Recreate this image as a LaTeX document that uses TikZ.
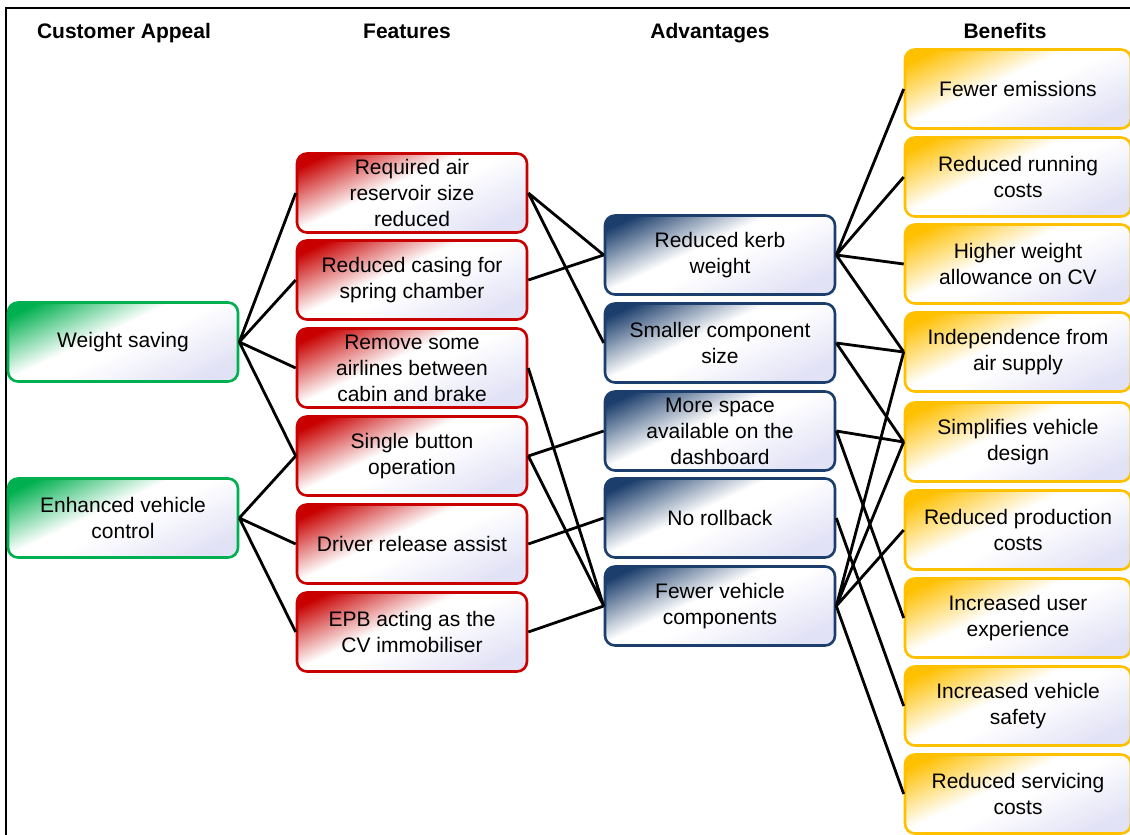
\documentclass[tikz,border=0pt]{standalone}
\usepackage{fontspec}
\setmainfont{Liberation Sans}
\definecolor{apgreen}{RGB}{0, 176, 80}
\definecolor{ftred}{RGB}{200, 0, 0}
\definecolor{advblue}{RGB}{28, 62, 108}
\definecolor{bengold}{RGB}{255, 192, 0}
\definecolor{lav}{RGB}{226, 226, 246}
\newcommand\boxshade[2]{\pgfdeclareverticalshading{#1}{100bp}{color(0bp)=(lav); color(25bp)=(lav); color(48bp)=(white); color(56bp)=(white); color(78bp)=(#2); color(100bp)=(#2)}}
\boxshade{greenshade}{apgreen}
\boxshade{redshade}{ftred}
\boxshade{blueshade}{advblue}
\boxshade{goldshade}{bengold}
\begin{document}
\begin{tikzpicture}[x=1pt, y=-1pt, font=\fontsize{21}{26}\selectfont,
		box/.style={draw, rounded corners=10pt, line width=2.6pt, minimum width=230pt, minimum height=79pt, align=center, inner sep=1pt, shade, shading angle=25},
		appeal/.style={box, draw=apgreen, shading=greenshade},
		feature/.style={box, draw=ftred, shading=redshade},
		advantage/.style={box, draw=advblue, shading=blueshade},
		benefit/.style={box, minimum width=226pt, draw=bengold, shading=goldshade},
		head/.style={anchor=base, font=\fontsize{21}{26}\selectfont\bfseries},
		link/.style={line width=2.8pt, black}]
		\useasboundingbox (0,0) rectangle (1130,835);
		
		% 边框
		\draw[line width=2pt] (6,835) -- (6,8) -- (1130,8);
		
		% 标题
		\node[head] (hAppeal) at (124,38) {Customer Appeal};
		\node[head] (hFeatures) at (407,38) {Features};
		\node[head] (hAdvantages) at (710,38) {Advantages};
		\node[head] (hBenefits) at (1005,38) {Benefits};
		
		% Customer Appeal
		\node[appeal] (weight) at (123,342) {Weight saving};
		\node[appeal] (control) at (123,518) {Enhanced vehicle\\control};
		
		% Features
		\node[feature] (reservoir) at (412,193) {Required air\\reservoir size\\reduced};
		\node[feature] (casing) at (412,280) {Reduced casing for\\spring chamber};
		\node[feature] (airlines) at (412,368) {Remove some\\airlines between\\cabin and brake};
		\node[feature] (button) at (412,456) {Single button\\operation};
		\node[feature] (release) at (412,544) {Driver release assist};
		\node[feature] (epb) at (412,632) {EPB acting as the\\CV immobiliser};
		
		% Advantages
		\node[advantage] (kerb) at (720,255) {Reduced kerb\\weight};
		\node[advantage] (size) at (720,343) {Smaller component\\size};
		\node[advantage] (space) at (720,431) {More space\\available on the\\dashboard};
		\node[advantage] (rollback) at (720,518) {No rollback};
		\node[advantage] (fewer) at (720,606) {Fewer vehicle\\components};
		
		% Benefits
		\node[benefit] (emissions) at (1018,89) {Fewer emissions};
		\node[benefit] (running) at (1018,177) {Reduced running\\costs};
		\node[benefit] (allowance) at (1018,264) {Higher weight\\allowance on CV};
		\node[benefit] (independence) at (1018,352) {Independence from\\air supply};
		\node[benefit] (simplifies) at (1018,442) {Simplifies vehicle\\design};
		\node[benefit] (production) at (1018,530) {Reduced production\\costs};
		\node[benefit] (experience) at (1018,618) {Increased user\\experience};
		\node[benefit] (safety) at (1018,706) {Increased vehicle\\safety};
		\node[benefit] (servicing) at (1018,794) {Reduced servicing\\costs};
		
		% 连线
		\draw[link] (weight.east) -- (reservoir.west) (weight.east) -- (casing.west)
			(weight.east) -- (airlines.west) (weight.east) -- (button.west);
		\draw[link] (control.east) -- (button.west) (control.east) -- (release.west)
			(control.east) -- (epb.west);
		\draw[link] (reservoir.east) -- (kerb.west) (reservoir.east) -- (size.west)
			(casing.east) -- (kerb.west) (airlines.east) -- (fewer.west)
			(button.east) -- (space.west) (button.east) -- (fewer.west)
			(release.east) -- (rollback.west) (epb.east) -- (fewer.west);
		\draw[link] (kerb.east) -- (emissions.west) (kerb.east) -- (running.west)
			(kerb.east) -- (allowance.west) (kerb.east) -- (independence.west);
		\draw[link] (size.east) -- (independence.west) (size.east) -- (simplifies.west)
			(space.east) -- (simplifies.west) (space.east) -- (experience.west)
			(rollback.east) -- (safety.west);
		\draw[link] (fewer.east) -- (independence.west) (fewer.east) -- (simplifies.west)
			(fewer.east) -- (production.west) (fewer.east) -- (servicing.west);
		\end{tikzpicture}
\end{document}
